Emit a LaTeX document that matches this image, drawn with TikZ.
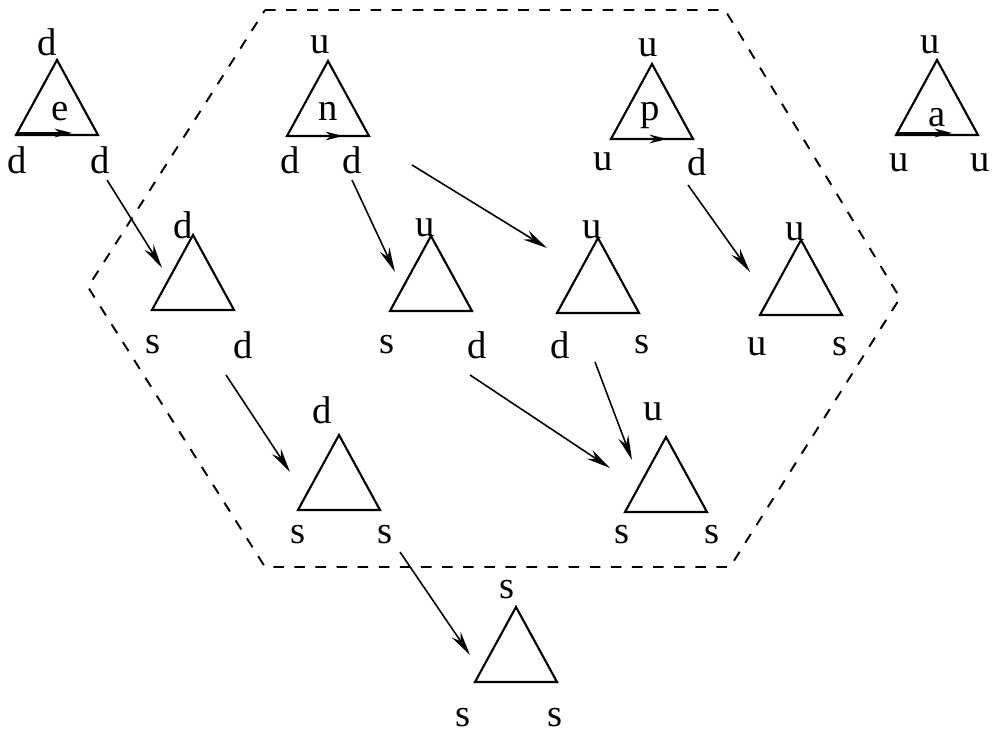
\documentclass[tikz,border=0pt]{standalone}
\usepackage{fontspec}
\setmainfont{Liberation Serif}
\usetikzlibrary{arrows.meta}
\begin{document}
\begin{tikzpicture}[x=0.01cm,y=-0.01cm,
  tri/.style={draw,line width=0.6pt},
  lab/.style={inner sep=0pt,font=\fontsize{11}{12}\selectfont},
  conn/.style={draw,line width=0.45pt,-{Stealth[length=7pt,width=3pt]}},
  inarr/.style={draw,line width=0.5pt,-{Stealth[length=5pt,width=2.5pt]}}]
\useasboundingbox (0,0) rectangle (1000,734);
\draw[dashed,line width=0.55pt] (265,10)--(725,10)--(900,298)--(730,567)--(265,567)--(88,287)--cycle;
\tikzset{tr/.pic={\draw[tri] (0,0)--(-41,75)--(41,75)--cycle;}}
% top row
\pic at (57,60) {tr}; \draw[inarr] (17,133)--(72,133);
\node[lab] at (47,42) {d}; \node[lab] at (17,160) {d}; \node[lab] at (100,160) {d}; \node[lab] at (60,112) {e};
\pic at (328,61) {tr}; \draw[inarr] (288,136)--(343,136);
\node[lab] at (320,45) {u}; \node[lab] at (290,160) {d}; \node[lab] at (352,160) {d}; \node[lab] at (328,111) {n};
\pic at (652,64) {tr}; \draw[inarr] (612,139)--(667,139);
\node[lab] at (648,48) {u}; \node[lab] at (603,162) {u}; \node[lab] at (697,162) {d}; \node[lab] at (650,116) {p};
\pic at (937,60) {tr}; \draw[inarr] (897,133)--(952,133);
\node[lab] at (930,45) {u}; \node[lab] at (899,163) {u}; \node[lab] at (980,163) {u}; \node[lab] at (937,118) {a};
% middle row
\pic at (193,235) {tr}; \node[lab] at (183,225) {d}; \node[lab] at (153,345) {s}; \node[lab] at (243,345) {d};
\pic at (431,236) {tr}; \node[lab] at (425,228) {u}; \node[lab] at (387,345) {s}; \node[lab] at (477,345) {d};
\pic at (598,238) {tr}; \node[lab] at (592,230) {u}; \node[lab] at (560,345) {d}; \node[lab] at (642,345) {s};
\pic at (801,240) {tr}; \node[lab] at (795,232) {u}; \node[lab] at (757,347) {u}; \node[lab] at (840,347) {s};
% lower
\pic at (339,435) {tr}; \node[lab] at (322,410) {d}; \node[lab] at (298,535) {s}; \node[lab] at (385,535) {s};
\pic at (666,437) {tr}; \node[lab] at (653,412) {u}; \node[lab] at (622,535) {s}; \node[lab] at (712,535) {s};
\pic at (516,607) {tr}; \node[lab] at (507,590) {s}; \node[lab] at (463,718) {s}; \node[lab] at (555,718) {s};
% connectors
\coordinate (a1) at (107,180); \coordinate (b1) at (162,268); \draw[conn] (a1)--(b1);
\coordinate (a2) at (352,180); \coordinate (b2) at (395,272); \draw[conn] (a2)--(b2);
\coordinate (a3) at (412,165); \coordinate (b3) at (547,248); \draw[conn] (a3)--(b3);
\coordinate (a4) at (688,185); \coordinate (b4) at (750,272); \draw[conn] (a4)--(b4);
\coordinate (a5) at (226,375); \coordinate (b5) at (290,472); \draw[conn] (a5)--(b5);
\coordinate (a6) at (470,375); \coordinate (b6) at (610,468); \draw[conn] (a6)--(b6);
\coordinate (a7) at (595,362); \coordinate (b7) at (632,460); \draw[conn] (a7)--(b7);
\coordinate (a8) at (400,552); \coordinate (b8) at (470,655); \draw[conn] (a8)--(b8);
\end{tikzpicture}
\end{document}
